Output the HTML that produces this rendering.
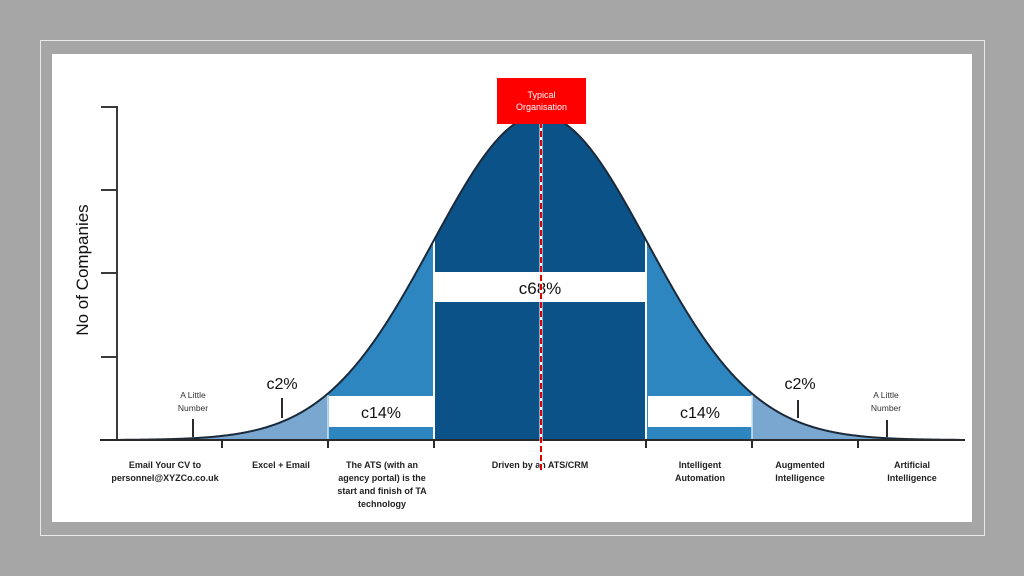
<!DOCTYPE html>
<html><head><meta charset="utf-8"><style>
html,body{margin:0;padding:0;background:#a6a6a6;}
svg{display:block;font-family:"Liberation Sans",sans-serif;}
</style></head><body>
<svg id="s" width="1024" height="576" viewBox="0 0 1024 576" xmlns="http://www.w3.org/2000/svg">
<rect x="0" y="0" width="1024" height="576" fill="#a6a6a6"/>
<rect x="40.5" y="40.5" width="944" height="495" fill="none" stroke="#e8e8e8" stroke-width="1"/>
<rect x="52" y="54" width="920" height="468" fill="#ffffff"/>
<g id="fills"></g>
<!-- white bands -->
<rect x="435" y="272" width="210" height="30" fill="#fff"/>
<rect x="329" y="396" width="104" height="31" fill="#fff"/>
<rect x="648" y="396" width="104" height="31" fill="#fff"/>
<line x1="434" y1="236" x2="434" y2="440" stroke="#fff" stroke-width="2"/>
<line x1="646" y1="236" x2="646" y2="440" stroke="#fff" stroke-width="2"/>
<line x1="328" y1="395" x2="328" y2="440" stroke="#cfe3f3" stroke-width="1.5"/>
<line x1="752" y1="395" x2="752" y2="440" stroke="#cfe3f3" stroke-width="1.5"/>
<path id="curve" fill="none" stroke="#1a2a3a" stroke-width="2"/>
<!-- axes -->
<path d="M101 107 H117 V440" fill="none" stroke="#3a3a3a" stroke-width="2"/>
<line x1="101" y1="190" x2="117" y2="190" stroke="#3a3a3a" stroke-width="2"/>
<line x1="101" y1="273" x2="117" y2="273" stroke="#3a3a3a" stroke-width="2"/>
<line x1="101" y1="357" x2="117" y2="357" stroke="#3a3a3a" stroke-width="2"/>
<line x1="100" y1="440" x2="965" y2="440" stroke="#2a2a2a" stroke-width="2"/>
<g stroke="#2a2a2a" stroke-width="2">
<line x1="222" y1="440" x2="222" y2="448"/><line x1="328" y1="440" x2="328" y2="448"/>
<line x1="434" y1="440" x2="434" y2="448"/><line x1="646" y1="440" x2="646" y2="448"/>
<line x1="752" y1="440" x2="752" y2="448"/><line x1="858" y1="440" x2="858" y2="448"/>
<line x1="282" y1="398" x2="282" y2="418"/><line x1="193" y1="419" x2="193" y2="437"/>
<line x1="798" y1="400" x2="798" y2="418"/><line x1="887" y1="420" x2="887" y2="437"/>
</g>
<text transform="translate(88 270) rotate(-90)" text-anchor="middle" font-size="17" fill="#111">No of Companies</text>
<text x="540" y="294" text-anchor="middle" font-size="17" fill="#111">c68%</text>
<text x="381" y="418" text-anchor="middle" font-size="16" fill="#111">c14%</text>
<text x="700" y="418" text-anchor="middle" font-size="16" fill="#111">c14%</text>
<text x="282" y="389" text-anchor="middle" font-size="16" fill="#111">c2%</text>
<text x="800" y="389" text-anchor="middle" font-size="16" fill="#111">c2%</text>
<g font-size="8.5" fill="#333" text-anchor="middle">
<text x="193" y="398">A Little</text><text x="193" y="411">Number</text>
<text x="886" y="398">A Little</text><text x="886" y="411">Number</text>
</g>
<g font-size="9" font-weight="bold" fill="#222" text-anchor="middle">
<text x="165" y="468">Email Your CV to</text><text x="165" y="481">personnel@XYZCo.co.uk</text>
<text x="281" y="468">Excel + Email</text>
<text x="382" y="468">The ATS (with an</text><text x="382" y="481">agency portal) is the</text><text x="382" y="494">start and finish of TA</text><text x="382" y="507">technology</text>
<text x="540" y="468">Driven by an ATS/CRM</text>
<text x="700" y="468">Intelligent</text><text x="700" y="481">Automation</text>
<text x="800" y="468">Augmented</text><text x="800" y="481">Intelligence</text>
<text x="912" y="468">Artificial</text><text x="912" y="481">Intelligence</text>
</g>
<line x1="541" y1="122" x2="541" y2="472" stroke="#fff" stroke-width="3"/>
<line x1="541" y1="122" x2="541" y2="472" stroke="#e00000" stroke-width="2" stroke-dasharray="6,3"/>
<rect x="497" y="78" width="89" height="46" fill="#ff0000"/>
<text x="541.5" y="98" text-anchor="middle" font-size="9" fill="#fff">Typical</text>
<text x="541.5" y="110" text-anchor="middle" font-size="9" fill="#fff">Organisation</text>
</svg>
<script>
(function(){
var ns="http://www.w3.org/2000/svg";
function y(x){return 440-325*Math.exp(-Math.pow(x-540,2)/(2*11560));}
function area(a,b,col){var d="M"+a+" 440";for(var x=a;x<=b;x+=1)d+=" L"+x+" "+y(x).toFixed(2);d+=" L"+b+" 440 Z";
var p=document.createElementNS(ns,"path");p.setAttribute("d",d);p.setAttribute("fill",col);document.getElementById("fills").appendChild(p);}
area(150,328,"#7aa7d0");area(752,930,"#7aa7d0");
area(328,434,"#2e86c1");area(646,752,"#2e86c1");
area(434,646,"#0b5289");
var d="M120 "+y(120).toFixed(2);for(var x=121;x<=960;x++)d+=" L"+x+" "+y(x).toFixed(2);
document.getElementById("curve").setAttribute("d",d);
})();
</script>
</body></html>
